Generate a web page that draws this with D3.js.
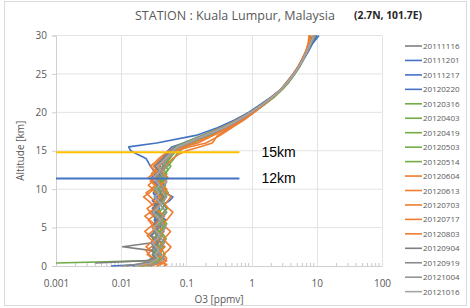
<!DOCTYPE html>
<html>
<head>
<meta charset="utf-8">
<script src="https://cdn.jsdelivr.net/npm/d3@7"></script>
<style>
  body { margin: 0; background: #fff; }
  text { font-family: "Open Sans", sans-serif; }
</style>
</head>
<body>
<div id="chart"></div>
<script>
// altitude levels [km] shared by every sounding
var altitude = [0, 0.2, 0.4, 0.7,
  1, 1.5, 2, 2.5, 3, 3.5,
  4, 4.5, 5, 5.5, 6, 6.5, 7, 7.5, 8, 8.5,
  9, 9.5, 10, 10.5, 11, 11.5, 12, 12.5, 13, 13.5,
  14, 14.5, 15, 15.5, 16,
  17, 18, 19, 20,
  21, 22, 23, 24, 25, 26, 27, 28, 29, 30];

var dates = ['20111116', '20111201', '20111217', '20120220', '20120316', '20120403',
  '20120419', '20120503', '20120514', '20120604', '20120613', '20120703',
  '20120717', '20120803', '20120904', '20120919', '20121004', '20121016'];

var colors = ['#7f7f7f', '#4472c4', '#4472c4', '#4472c4', '#70ad47', '#70ad47',
  '#70ad47', '#70ad47', '#70ad47', '#ed7d31', '#ed7d31', '#ed7d31',
  '#ed7d31', '#ed7d31', '#7f7f7f', '#8a8a8a', '#969696', '#a5a5a5'];

// O3 [ppmv] per sounding, one value per altitude level
var o3_20111116 = [0.012,0.018,0.025,0.03, 0.032,0.035,0.03,0.0105,0.028,0.033, 0.036,0.031,0.034,0.038,0.033,0.036,0.04,0.035,0.032,0.038, 0.042,0.036,0.033,0.037,0.04,0.035,0.038,0.042,0.045,0.04, 0.048,0.055,0.06,0.07,0.1, 0.2,0.38,0.62,0.95, 1.4,2.1,2.8,3.5,4.3,5.2,6.0,6.9,7.8,8.6];
var o3_20111201 = [0.007,0.02,0.028,0.033, 0.03,0.036,0.034,0.03,0.037,0.033, 0.029,0.035,0.038,0.033,0.036,0.031,0.034,0.039,0.035,0.03, 0.036,0.033,0.038,0.035,0.031,0.029,0.034,0.031,0.028,0.026, 0.024,0.018,0.014,0.013,0.035, 0.14,0.3,0.55,0.9, 1.35,2.0,2.8,3.6,4.4,5.3,6.1,7.2,8.3,10.2];
var o3_20111217 = [0.015,0.022,0.03,0.035, 0.04,0.037,0.033,0.038,0.042,0.036, 0.04,0.045,0.039,0.043,0.048,0.041,0.045,0.05,0.044,0.055, 0.062,0.048,0.043,0.046,0.04,0.044,0.038,0.042,0.046,0.05, 0.055,0.06,0.07,0.085,0.12, 0.22,0.42,0.7,1.05, 1.55,2.2,2.95,3.75,4.6,5.5,6.4,7.5,8.7,10.8];
var o3_20120220 = [0.02,0.025,0.03,0.028, 0.033,0.03,0.035,0.032,0.029,0.034, 0.037,0.033,0.03,0.035,0.032,0.036,0.033,0.03,0.034,0.038, 0.034,0.031,0.035,0.039,0.036,0.033,0.037,0.034,0.04,0.036, 0.042,0.047,0.052,0.06,0.09, 0.18,0.36,0.6,0.92, 1.42,2.05,2.85,3.65,4.5,5.4,6.3,7.3,8.4,9.9];
var o3_20120316 = [null,null,0.001,0.032, 0.038,0.042,0.038,0.044,0.04,0.046, 0.042,0.038,0.043,0.047,0.041,0.045,0.05,0.044,0.04,0.046, 0.043,0.048,0.044,0.04,0.045,0.05,0.046,0.052,0.048,0.055, 0.05,0.058,0.065,0.075,0.11, 0.21,0.4,0.66,1.0, 1.5,2.15,2.9,3.7,4.5,5.4,6.2,7.1,8.0,9.0];
var o3_20120403 = [0.018,0.024,0.03,0.036, 0.04,0.036,0.041,0.045,0.04,0.037, 0.043,0.039,0.044,0.04,0.036,0.042,0.038,0.043,0.047,0.041, 0.045,0.04,0.044,0.048,0.043,0.046,0.05,0.045,0.052,0.058, 0.065,0.07,0.08,0.095,0.13, 0.24,0.45,0.72,1.08, 1.58,2.25,3.0,3.8,4.6,5.5,6.3,7.2,8.2,9.5];
var o3_20120419 = [0.022,0.028,0.033,0.03, 0.035,0.031,0.036,0.04,0.035,0.039, 0.034,0.038,0.033,0.037,0.041,0.036,0.04,0.035,0.039,0.043, 0.038,0.042,0.037,0.041,0.045,0.04,0.044,0.039,0.043,0.047, 0.052,0.06,0.068,0.08,0.1, 0.19,0.37,0.63,0.98, 1.46,2.12,2.88,3.66,4.45,5.35,6.2,7.15,8.1,9.3];
var o3_20120503 = [0.025,0.03,0.034,0.038, 0.042,0.047,0.043,0.038,0.044,0.049, 0.045,0.04,0.046,0.05,0.044,0.04,0.045,0.051,0.046,0.042, 0.047,0.053,0.048,0.043,0.038,0.042,0.047,0.052,0.058,0.05, 0.056,0.062,0.07,0.082,0.12, 0.22,0.41,0.68,1.02, 1.52,2.18,2.92,3.72,4.52,5.42,6.25,7.2,8.15,9.6];
var o3_20120514 = [0.02,0.026,0.031,0.035, 0.031,0.036,0.032,0.037,0.033,0.03, 0.035,0.031,0.036,0.041,0.037,0.033,0.038,0.034,0.039,0.035, 0.04,0.036,0.032,0.037,0.042,0.038,0.034,0.039,0.036,0.041, 0.046,0.052,0.058,0.066,0.09, 0.17,0.34,0.6,0.94, 1.44,2.08,2.84,3.64,4.48,5.38,6.22,7.1,8.05,9.2];
var o3_20120604 = [0.02,0.025,0.03,0.026, 0.031,0.027,0.024,0.029,0.034,0.028, 0.025,0.03,0.035,0.029,0.026,0.031,0.027,0.033,0.038,0.032, 0.028,0.024,0.029,0.034,0.03,0.026,0.031,0.036,0.031,0.036, 0.042,0.05,0.065,0.09,0.15, 0.26,0.44,0.7,1.02, 1.48,2.1,2.82,3.6,4.4,5.25,6.0,6.8,7.4,7.6];
var o3_20120613 = [0.028,0.034,0.04,0.046, 0.05,0.044,0.052,0.058,0.05,0.045, 0.051,0.057,0.049,0.044,0.05,0.056,0.062,0.053,0.047,0.052, 0.058,0.05,0.045,0.04,0.046,0.052,0.046,0.041,0.047,0.054, 0.062,0.075,0.1,0.16,0.25, 0.3,0.48,0.74,1.06, 1.5,2.12,2.85,3.62,4.42,5.28,6.05,6.9,7.5,7.8];
var o3_20120703 = [0.03,0.026,0.022,0.026, 0.03,0.025,0.029,0.024,0.028,0.033, 0.027,0.023,0.027,0.032,0.027,0.023,0.028,0.025,0.03,0.026, 0.022,0.027,0.031,0.026,0.03,0.034,0.029,0.033,0.038,0.044, 0.05,0.058,0.07,0.11,0.2, 0.33,0.5,0.76,1.1, 1.55,2.18,2.9,3.68,4.48,5.32,6.1,6.95,7.6,8.0];
var o3_20120717 = [0.035,0.04,0.045,0.05, 0.042,0.036,0.041,0.047,0.04,0.035, 0.039,0.045,0.038,0.034,0.04,0.046,0.039,0.034,0.04,0.045, 0.039,0.044,0.05,0.043,0.038,0.032,0.037,0.042,0.036,0.04, 0.045,0.052,0.06,0.075,0.1, 0.18,0.35,0.6,0.95, 1.42,2.05,2.8,3.58,4.38,5.22,6.0,6.85,7.45,7.7];
var o3_20120803 = [0.045,0.05,0.042,0.036, 0.032,0.037,0.043,0.036,0.031,0.036, 0.041,0.035,0.03,0.034,0.039,0.033,0.029,0.034,0.03,0.035, 0.04,0.034,0.029,0.033,0.028,0.032,0.037,0.032,0.028,0.033, 0.038,0.045,0.055,0.07,0.12, 0.25,0.42,0.68,1.0, 1.46,2.08,2.82,3.6,4.42,5.28,6.08,6.9,7.55,8.1];
var o3_20120904 = [null,null,0.004,0.025, 0.03,0.034,0.029,0.033,0.037,0.032, 0.028,0.033,0.037,0.032,0.036,0.04,0.035,0.031,0.036,0.04, 0.045,0.039,0.034,0.038,0.033,0.037,0.042,0.037,0.033,0.038, 0.044,0.05,0.058,0.068,0.1, 0.2,0.38,0.64,0.98, 1.45,2.1,2.86,3.66,4.5,5.4,6.25,7.2,8.2,9.4];
var o3_20120919 = [0.01,0.016,0.022,0.028, 0.033,0.038,0.034,0.03,0.035,0.04, 0.036,0.032,0.037,0.042,0.038,0.034,0.03,0.035,0.04,0.036, 0.032,0.037,0.042,0.038,0.034,0.039,0.035,0.04,0.045,0.04, 0.046,0.052,0.06,0.07,0.095, 0.18,0.36,0.62,0.96, 1.44,2.08,2.84,3.64,4.48,5.36,6.2,7.1,8.1,9.1];
var o3_20121004 = [0.026,0.031,0.036,0.041, 0.046,0.04,0.036,0.041,0.046,0.042, 0.038,0.043,0.048,0.043,0.039,0.044,0.049,0.044,0.04,0.045, 0.05,0.046,0.041,0.046,0.05,0.045,0.04,0.045,0.05,0.046, 0.052,0.058,0.066,0.078,0.11, 0.21,0.39,0.65,0.99, 1.48,2.12,2.88,3.68,4.5,5.38,6.22,7.15,8.1,9.3];
var o3_20121016 = [0.016,0.022,0.028,0.033, 0.037,0.033,0.038,0.034,0.03,0.035, 0.039,0.035,0.031,0.036,0.04,0.035,0.031,0.036,0.041,0.037, 0.033,0.038,0.034,0.039,0.035,0.031,0.036,0.04,0.036,0.042, 0.048,0.055,0.062,0.072,0.1, 0.19,0.37,0.62,0.97, 1.45,2.1,2.85,3.65,4.48,5.36,6.2,7.1,8.05,9.0];

var profiles = [o3_20111116, o3_20111201, o3_20111217, o3_20120220, o3_20120316, o3_20120403,
  o3_20120419, o3_20120503, o3_20120514, o3_20120604, o3_20120613, o3_20120703,
  o3_20120717, o3_20120803, o3_20120904, o3_20120919, o3_20121004, o3_20121016];

// marker lines drawn over the plot
var refLabels = ['15km', '12km'];
var refAltitude = [14.8, 11.4];
var refColors = ['#ffc000', '#4472c4'];
var refEnd = 0.65;

var xTicks = [0.001, 0.01, 0.1, 1, 10, 100];
var yTicks = [0, 5, 10, 15, 20, 25, 30];

var width = 470,
    height = 308,
    margin = { left: 56, right: 88, top: 35.5, bottom: 42 };

var chartWidth = width - margin.left - margin.right;
var chartHeight = height - margin.top - margin.bottom;

var svg = d3.select('#chart').append('svg')
    .attr('width', width)
    .attr('height', height);

// chart area frame
svg.append('rect')
    .attr('x', 4.5).attr('y', 1.5)
    .attr('width', 462).attr('height', 304)
    .attr('fill', '#fff')
    .attr('stroke', '#d9d9d9');

var xScale = d3.scaleLog().domain([0.001, 100]).range([0, chartWidth]);
var yScale = d3.scaleLinear().domain([0, 30]).range([chartHeight, 0]);

var g = svg.append('g')
    .attr('transform', 'translate(' + margin.left + ',' + margin.top + ')');

// gridlines
g.append('g').attr('class', 'grid x')
    .selectAll('line').data(xTicks.slice(1)).enter().append('line')
    .attr('x1', (d) => Math.round(xScale(d)) + 0.5)
    .attr('x2', (d) => Math.round(xScale(d)) + 0.5)
    .attr('y1', 0).attr('y2', chartHeight)
    .attr('stroke', '#e3e3e3');

g.append('g').attr('class', 'grid y')
    .selectAll('line').data(yTicks.slice(1)).enter().append('line')
    .attr('x1', 0).attr('x2', chartWidth)
    .attr('y1', (d) => yScale(d))
    .attr('y2', (d) => yScale(d))
    .attr('stroke', '#e3e3e3');

// axes
var xAxis = d3.axisBottom(xScale)
    .tickValues(xTicks)
    .tickFormat((d) => String(d))
    .tickSize(0)
    .tickPadding(14);

var yAxis = d3.axisLeft(yScale)
    .tickValues(yTicks)
    .tickSize(4)
    .tickPadding(5);

var gx = g.append('g')
    .attr('class', 'axis x')
    .attr('transform', 'translate(0,' + chartHeight + ')')
    .call(xAxis);

var gy = g.append('g')
    .attr('class', 'axis y')
    .call(yAxis);

[gx, gy].forEach(function(a) {
    a.select('.domain').attr('stroke', '#d0d0d0');
    a.selectAll('.tick line').attr('stroke', '#d0d0d0');
    a.selectAll('text')
        .attr('fill', '#595959')
        .style('font-size', '10px')
        .style('font-family', '"Open Sans", sans-serif');
});

// minor ticks on log axis
var minor = [];
xTicks.slice(0, -1).forEach(function(t) {
    for (var k = 2; k <= 9; k++) minor.push(t * k);
});
g.append('g').attr('class', 'minor')
    .selectAll('line').data(minor).enter().append('line')
    .attr('x1', (d) => xScale(d)).attr('x2', (d) => xScale(d))
    .attr('y1', chartHeight - 3).attr('y2', chartHeight)
    .attr('stroke', '#c8c8c8');

// profiles
var line = d3.line()
    .defined((d) => d[1] != null)
    .x((d) => xScale(d[1]))
    .y((d) => yScale(d[0]));

g.append('g').attr('class', 'profiles')
    .selectAll('path').data(profiles).enter().append('path')
    .attr('d', (p) => line(p.map((v, i) => [altitude[i], v])))
    .attr('fill', 'none')
    .attr('stroke', (p, i) => colors[i])
    .attr('stroke-width', 1.6)
    .attr('stroke-linejoin', 'round');

// reference altitude lines
var refs = g.append('g').attr('class', 'refs')
    .selectAll('g').data(refAltitude).enter().append('g');

refs.append('line')
    .attr('x1', 0)
    .attr('x2', xScale(refEnd))
    .attr('y1', (d) => yScale(d))
    .attr('y2', (d) => yScale(d))
    .attr('stroke', (d, i) => refColors[i])
    .attr('stroke-width', 2);

refs.append('text')
    .attr('x', xScale(refEnd) + 22)
    .attr('y', (d) => yScale(d) + 5)
    .style('font-family', '"Liberation Sans", Arial, sans-serif')
    .style('font-size', '14px')
    .attr('fill', '#000')
    .text((d, i) => refLabels[i]);

// titles
svg.append('text')
    .attr('x', 135)
    .attr('y', 20)
    .attr('fill', '#595959')
    .style('font-size', '12.5px')
    .text('STATION : Kuala Lumpur, Malaysia');

svg.append('text')
    .attr('x', 354)
    .attr('y', 19)
    .attr('fill', '#262626')
    .style('font-size', '10.3px')
    .style('font-weight', 'bold')
    .text('(2.7N, 101.7E)');

svg.append('text')
    .attr('transform', 'translate(' + (margin.left + chartWidth / 2) + ',' + (height - 5) + ')')
    .attr('text-anchor', 'middle')
    .attr('fill', '#595959')
    .style('font-size', '10px')
    .text('O3 [ppmv]');

svg.append('text')
    .attr('transform', 'translate(' + 24 + ',' + (margin.top + chartHeight / 2) + ') rotate(-90)')
    .attr('text-anchor', 'middle')
    .attr('fill', '#595959')
    .style('font-size', '10px')
    .text('Altitude [km]');

// legend
var legend = svg.append('g').attr('class', 'legend')
    .selectAll('g').data(dates).enter().append('g')
    .attr('transform', (d, i) => 'translate(405,' + (46 + i * 14.45) + ')');

legend.append('line')
    .attr('x1', 0).attr('x2', 17)
    .attr('stroke', (d, i) => colors[i])
    .attr('stroke-width', 1.6);

legend.append('text')
    .attr('x', 18)
    .attr('y', 3)
    .attr('fill', '#595959')
    .style('font-size', '8px')
    .text((d) => d);
</script>
</body>
</html>
